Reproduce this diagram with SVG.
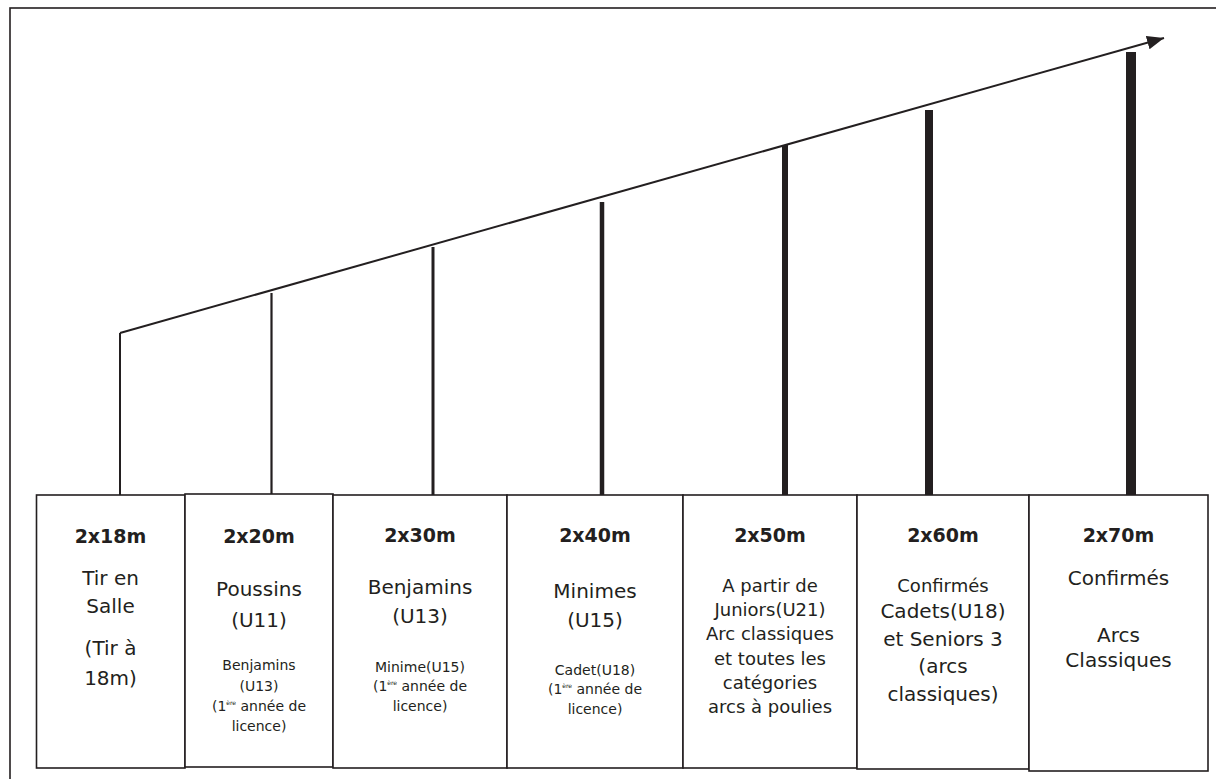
<svg xmlns="http://www.w3.org/2000/svg" width="1216" height="779" viewBox="0 0 1216 779">
<style>
.box{fill:#fff;stroke:#231f20;stroke-width:1.6}
.t{font-family:"DejaVu Sans",sans-serif;fill:#231f20;text-anchor:middle}
.h{font-size:19px;font-weight:bold}
.m{font-size:20px}
.m18{font-size:18px}
.s{font-size:14px}
.sup{font-size:6px}
.bar{stroke:#231f20;fill:none}
</style>
<defs>
<marker id="ah" markerUnits="userSpaceOnUse" markerWidth="20" markerHeight="16" refX="17" refY="7" orient="auto">
<path d="M0,0 L17,7 L0,14 Z" fill="#231f20"/>
</marker>
</defs>
<rect x="0" y="0" width="1216" height="779" fill="#fff"/>
<rect x="10" y="8" width="1230" height="800" fill="none" stroke="#231f20" stroke-width="1.6"/>
<g id="connectors">
<line x1="120" y1="333" x2="1164" y2="38" stroke="#231f20" stroke-width="2" marker-end="url(#ah)"/>
<line class="bar" x1="120" y1="333" x2="120" y2="495" stroke-width="2"/>
<line class="bar" x1="271.5" y1="293" x2="271.5" y2="494" stroke-width="2.2"/>
<line class="bar" x1="433" y1="247" x2="433" y2="495" stroke-width="3"/>
<line class="bar" x1="602" y1="202" x2="602" y2="495" stroke-width="4.5"/>
<line class="bar" x1="785" y1="145" x2="785" y2="495" stroke-width="6"/>
<line class="bar" x1="929" y1="110" x2="929" y2="495" stroke-width="8"/>
<line class="bar" x1="1131" y1="52" x2="1131" y2="495" stroke-width="10"/>
</g>
<g id="box-18m">
<rect class="box" x="36.5" y="495" width="148.5" height="273"/>
<text class="t h" x="110.5" y="543">2x18m</text>
<text class="t m" x="110.5" y="585">Tir en</text>
<text class="t m" x="110.5" y="613">Salle</text>
<text class="t m" x="110.5" y="655">(Tir à</text>
<text class="t m" x="110.5" y="685">18m)</text>
</g>
<g id="box-20m">
<rect class="box" x="185" y="494" width="148" height="273"/>
<text class="t h" x="259" y="543">2x20m</text>
<text class="t m" x="259" y="596">Poussins</text>
<text class="t m" x="259" y="627">(U11)</text>
<text class="t s" x="259" y="670">Benjamins</text>
<text class="t s" x="259" y="691">(U13)</text>
<text class="t s" x="259" y="711">(1<tspan class="sup" dy="-6">ère</tspan><tspan dy="6"> année de</tspan></text>
<text class="t s" x="259" y="731">licence)</text>
</g>
<g id="box-30m">
<rect class="box" x="333" y="495" width="174" height="273"/>
<text class="t h" x="420" y="542">2x30m</text>
<text class="t m" x="420" y="594">Benjamins</text>
<text class="t m" x="420" y="623">(U13)</text>
<text class="t s" x="420" y="672">Minime(U15)</text>
<text class="t s" x="420" y="691">(1<tspan class="sup" dy="-6">ère</tspan><tspan dy="6"> année de</tspan></text>
<text class="t s" x="420" y="711">licence)</text>
</g>
<g id="box-40m">
<rect class="box" x="507" y="495" width="176" height="273"/>
<text class="t h" x="595" y="542">2x40m</text>
<text class="t m" x="595" y="598">Minimes</text>
<text class="t m" x="595" y="627">(U15)</text>
<text class="t s" x="595" y="675">Cadet(U18)</text>
<text class="t s" x="595" y="694">(1<tspan class="sup" dy="-6">ère</tspan><tspan dy="6"> année de</tspan></text>
<text class="t s" x="595" y="714">licence)</text>
</g>
<g id="box-50m">
<rect class="box" x="683" y="495" width="174" height="273"/>
<text class="t h" x="770" y="542">2x50m</text>
<text class="t m18" x="770" y="592">A partir de</text>
<text class="t m18" x="770" y="616">Juniors(U21)</text>
<text class="t m18" x="770" y="640">Arc classiques</text>
<text class="t m18" x="770" y="665">et toutes les</text>
<text class="t m18" x="770" y="689">catégories</text>
<text class="t m18" x="770" y="713">arcs à poulies</text>
</g>
<g id="box-60m">
<rect class="box" x="857" y="495" width="172" height="274"/>
<text class="t h" x="943" y="542">2x60m</text>
<text class="t m18" x="943" y="592">Confirmés</text>
<text class="t m" x="943" y="618">Cadets(U18)</text>
<text class="t m" x="943" y="646">et Seniors 3</text>
<text class="t m" x="943" y="673">(arcs</text>
<text class="t m" x="943" y="701">classiques)</text>
</g>
<g id="box-70m">
<rect class="box" x="1029" y="495" width="179" height="276"/>
<text class="t h" x="1118.5" y="542">2x70m</text>
<text class="t m" x="1118.5" y="585">Confirmés</text>
<text class="t m" x="1118.5" y="642">Arcs</text>
<text class="t m" x="1118.5" y="667">Classiques</text>
</g>
</svg>
